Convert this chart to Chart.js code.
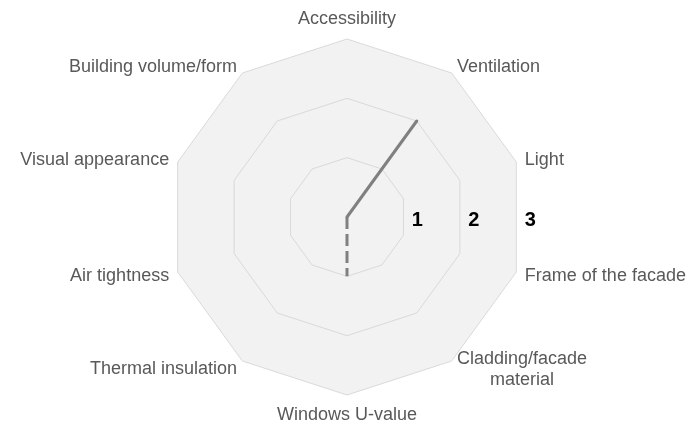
<!DOCTYPE html>
<html>
<head>
<meta charset="utf-8">
<script src="https://cdn.jsdelivr.net/npm/chart.js@4.4.1/dist/chart.umd.min.js"></script>
<style>
html,body{margin:0;padding:0;background:#ffffff;}
canvas{display:block;}
</style>
</head>
<body>
<canvas id="c" width="695" height="427"></canvas>
<script>
// ---- data ----
const categories = [
  ["Accessibility"],
  ["Ventilation"],
  ["Light"],
  ["Frame of the facade"],
  ["Cladding/facade", "material"],
  ["Windows U-value"],
  ["Thermal insulation"],
  ["Air tightness"],
  ["Visual appearance"],
  ["Building volume/form"]
];
const seriesSolid  = [0, 2, 0, 0, 0, 0, 0, 0, 0, 0];
const seriesDashed = [0, 0, 0, 0, 0, 1, 0, 0, 0, 0];
const tickLabels = ["1", "2", "3"];
const tickValues = [1, 2, 3];
const scaleMin = 0;
const scaleMax = 3;

// For the dashed series keep only the outward strokes (centre -> value) so the
// dash pattern is not overdrawn by the path retracing back to the centre.
const outwardOnly = (arr) => arr.map((v, i) => {
  const next = arr[(i + 1) % arr.length];
  return (v > 0 || next > 0) ? v : null;
});

// draw axis labels and tick labels positioned with the library's scale
const textPlugin = {
  id: 'textPlugin',
  afterDatasetsDraw(chart) {
    const scale = chart.scales.r;
    const ctx = chart.ctx;
    const R = scale.drawingArea;
    ctx.save();
    ctx.font = '18px "Liberation Sans", Arial, sans-serif';
    ctx.fillStyle = '#595959';
    ctx.textBaseline = 'middle';
    const LH = 21;
    categories.forEach((lines, i) => {
      const a = scale.getIndexAngle(i);
      const v = scale.getPointPosition(i, R);
      const s = Math.sin(a), c = Math.cos(a);
      const n = lines.length;
      if (Math.abs(s) < 0.01) {
        ctx.textAlign = 'center';
        const mid = v.y + (c > 0 ? -19.5 : 20);
        lines.forEach((t, k) => ctx.fillText(t, v.x, mid + (k - (n - 1) / 2) * LH));
      } else {
        const sign = s > 0 ? 1 : -1;
        const x = v.x + sign * 9 * Math.abs(s);
        const mid = v.y - 8.8 * c + 1.1;
        const w = Math.max(...lines.map(t => ctx.measureText(t).width));
        ctx.textAlign = 'center';
        const cx = x + sign * w / 2;
        lines.forEach((t, k) => ctx.fillText(t, cx, mid + (k - (n - 1) / 2) * LH));
      }
    });
    ctx.font = 'bold 20px "Liberation Sans", Arial, sans-serif';
    ctx.fillStyle = '#000000';
    ctx.textAlign = 'center';
    ctx.textBaseline = 'middle';
    const cos18 = Math.cos(Math.PI / 10);
    tickValues.forEach((val, k) => {
      const d = scale.getDistanceFromCenterForValue(val);
      ctx.fillText(tickLabels[k], scale.xCenter + d * cos18 + 14, scale.yCenter + 3);
    });
    ctx.restore();
  }
};

new Chart(document.getElementById('c'), {
  type: 'radar',
  data: {
    labels: categories,
    datasets: [
      {
        label: 'Series 1',
        data: seriesSolid,
        borderColor: '#808080',
        borderWidth: 3,
        borderJoinStyle: 'round',
        backgroundColor: 'rgba(0,0,0,0)',
        fill: false,
        pointRadius: 0,
        pointHoverRadius: 0,
        tension: 0
      },
      {
        label: 'Series 2',
        data: outwardOnly(seriesDashed),
        borderColor: '#808080',
        borderWidth: 3,
        borderDash: [12, 5],
        backgroundColor: 'rgba(0,0,0,0)',
        fill: false,
        spanGaps: false,
        pointRadius: 0,
        pointHoverRadius: 0,
        tension: 0
      }
    ]
  },
  options: {
    responsive: false,
    animation: false,
    layout: { padding: { top: 39, bottom: 32, left: 0, right: 0 } },
    plugins: { legend: { display: false }, tooltip: { enabled: false } },
    scales: {
      r: {
        min: scaleMin,
        max: scaleMax,
        backgroundColor: '#f2f2f2',
        ticks: { stepSize: 1, display: false },
        grid: { color: '#d9d9d9', lineWidth: 1 },
        angleLines: { display: false },
        pointLabels: { display: false }
      }
    }
  },
  plugins: [textPlugin]
});
</script>
</body>
</html>
